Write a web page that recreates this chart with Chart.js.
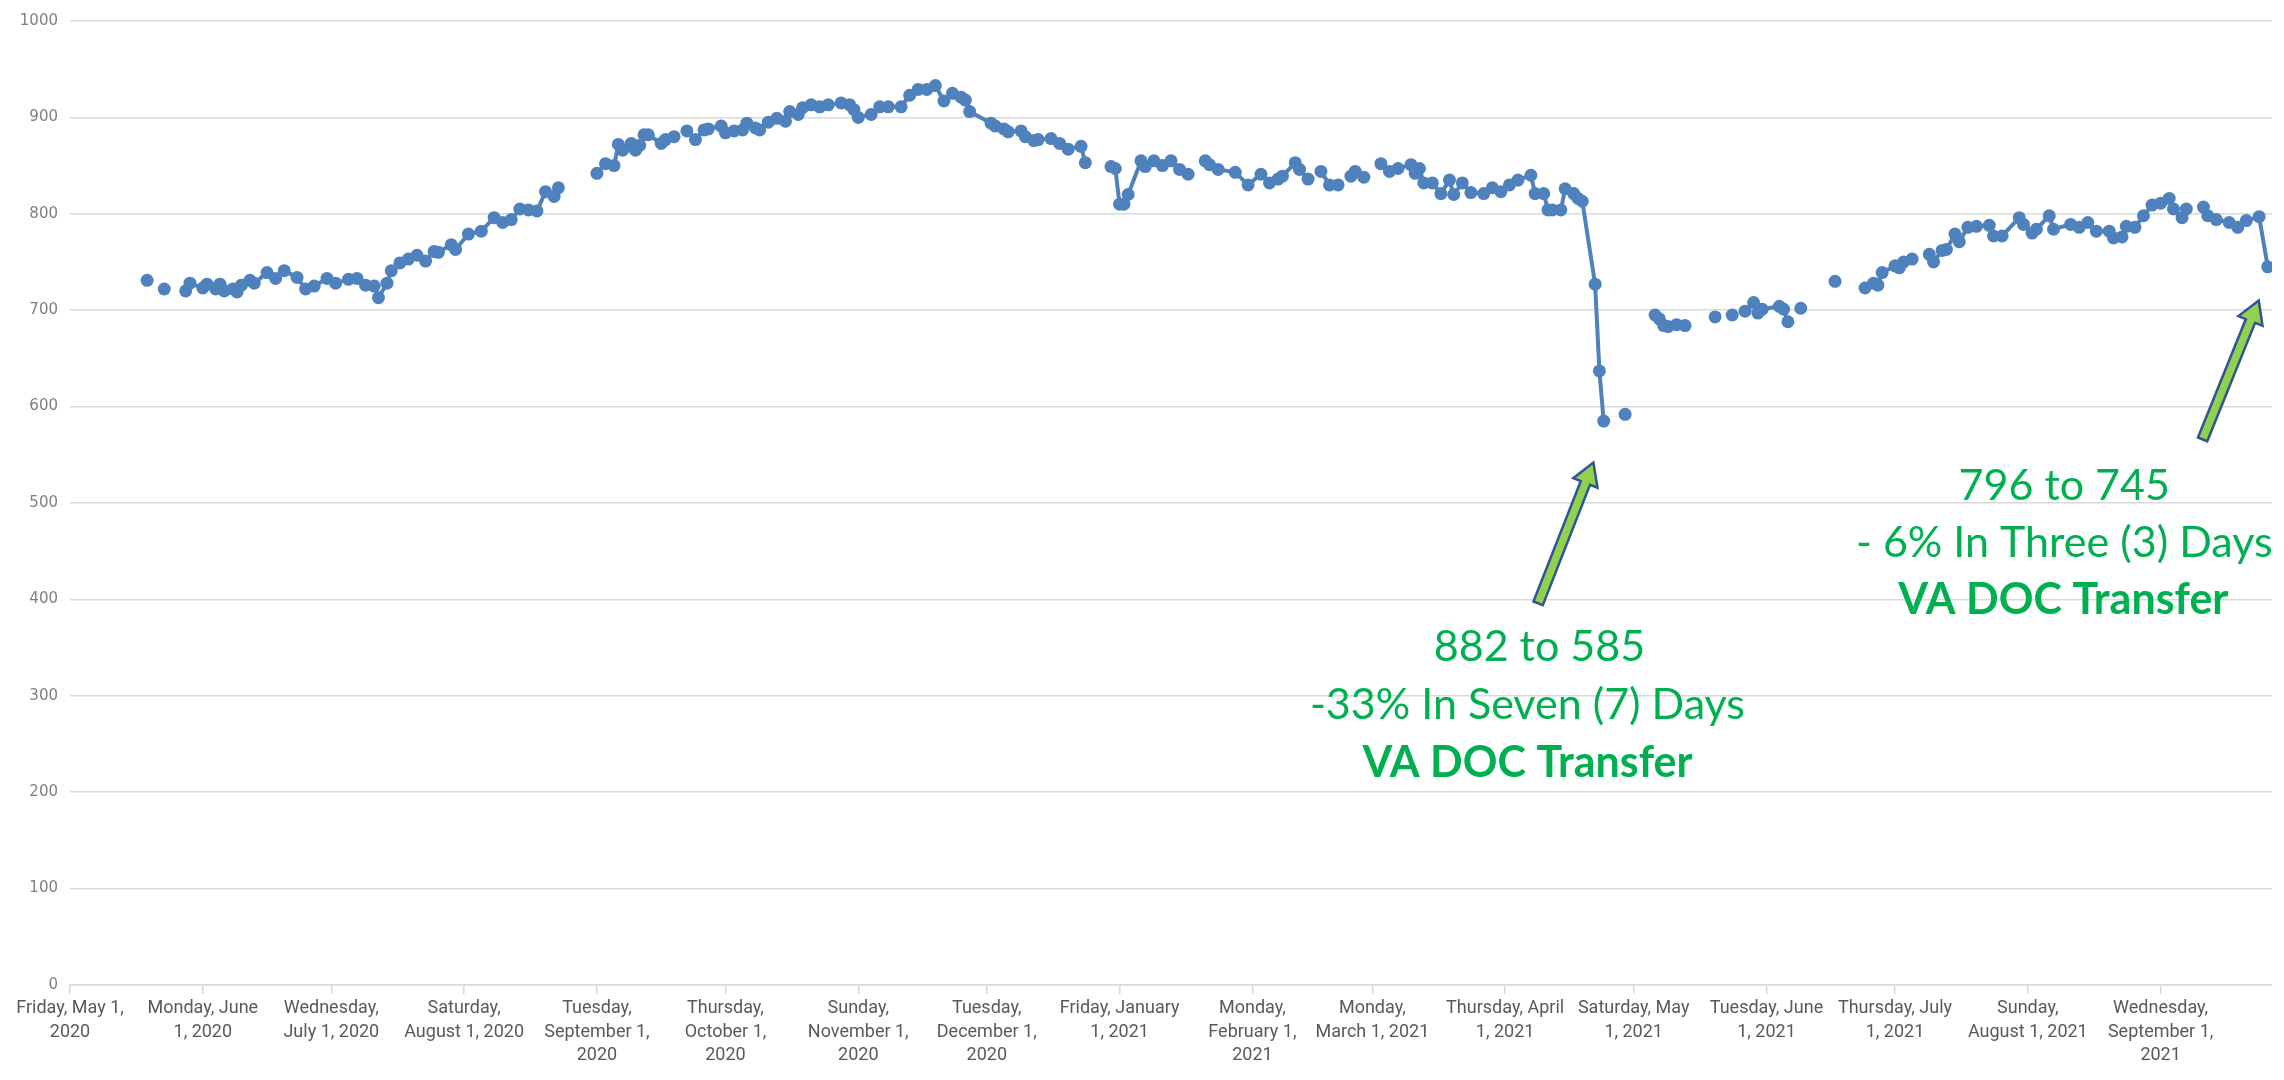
<!DOCTYPE html>
<html>
<head>
<meta charset="utf-8">
<script src="https://cdn.jsdelivr.net/npm/chart.js@4.4.0/dist/chart.umd.min.js"></script>
<style>
    html, body { margin: 0; padding: 0; background: #fff; }
    canvas { display: block; }
</style>
</head>
<body>
<canvas id="chart" width="2284" height="1080"></canvas>
<script>
'use strict';

// first day of the series, all days below are offsets from it
var startDate = '2020-05-01';

var dayOffsets = [
    18, 20, 22, 24, 27, 28, 31, 32, 34, 35, 36, 38, 39, 40, 42, 43, 46, 48, 50, 53,
    55, 57, 60, 62, 65, 67, 69, 71, 72, 74, 75, 77, 79, 81, 83, 85, 86, 89, 90, 93,
    96, 99, 101, 103, 105, 107, 109, 111, 113, 114, 118,
    123, 125, 127, 128, 129, 131, 132, 133, 134, 135, 138, 139, 141, 142, 144, 146, 148, 149,
    152, 153, 155, 157, 158, 160, 161, 163, 165, 167, 168, 170, 171, 173, 175, 177, 180,
    182, 183, 184, 187, 189, 191, 194, 196, 198, 200, 202, 204, 206, 208, 209, 210,
    215, 216, 218, 219, 222, 223, 225, 226, 229, 231, 233, 236, 237, 240,
    243, 244, 245, 246, 247, 250, 251, 253, 255, 257, 259, 261, 263,
    265, 266, 268, 272, 275, 278, 280, 282, 283, 286, 287, 289, 291,
    292, 294, 296, 298, 299, 300, 302, 304,
    306, 308, 310, 313, 314, 315, 316, 318, 320, 322, 323, 325, 327, 330, 332, 334, 336,
    338, 341, 342, 344, 345, 346, 348, 349, 351, 352, 353, 356, 357, 358, 360, 363, 365,
    370, 371, 372, 373, 375, 377, 380, 384, 386, 388, 390,
    391, 393, 394, 395, 399, 400, 401, 403, 404, 407, 412, 415,
    419, 421, 422, 423, 426, 427, 428, 430, 432,
    434, 435, 437, 438, 440, 441, 443, 445, 448, 449, 451, 455, 456, 458, 459, 462, 463,
    467, 469, 471, 473, 476, 477, 479, 480, 482, 484, 486, 488, 490, 491, 493, 494, 496,
    498, 499, 501, 504, 506, 508, 511, 513
];

// null = no report that day (line breaks)
var population = [
    731, null, 722, null, 720, 728, 723, 727, 722, 727, 720, 722, 719, 726, 731, 728, 739, 733, 741, 734,
    722, 725, 733, 728, 732, 733, 726, 725, 713, 728, 741, 749, 753, 757, 751, 761, 760, 768, 763, 779,
    782, 796, 791, 794, 805, 804, 803, 823, 818, 827, null,
    842, 852, 850, 872, 866, 873, 866, 871, 882, 882, 873, 877, 880, null, 886, 877, 887, 888,
    891, 884, 886, 887, 894, 889, 887, 895, 899, 896, 906, 903, 910, 913, 911, 913, 915,
    913, 908, 900, 903, 911, 911, 911, 923, 929, 929, 933, 917, 925, 921, 918, 906,
    894, 891, 888, 885, 886, 880, 876, 877, 878, 873, 867, 870, 853, null,
    849, 847, 810, 810, 820, 855, 849, 855, 850, 855, 846, 841, null,
    855, 851, 846, 843, 830, 841, 832, 836, 839, 853, 846, 836, null,
    844, 830, 830, null, 839, 844, 838, null,
    852, 844, 847, 851, 842, 847, 832, 832, 821, 835, 820, 832, 822, 821, 827, 823, 830,
    835, 840, 821, 821, 804, 804, 804, 826, 821, 816, 813, 727, 637, 585, null, 592, null,
    695, 691, 684, 683, 685, 684, null, 693, null, 695, null,
    699, 708, 697, 701, 704, 701, 688, null, 702, null, 730, null,
    723, 728, 726, 739, 746, 744, 750, 753, null,
    758, 750, 762, 763, 779, 771, 786, 787, 788, 777, 777, 796, 789, 780, 784, 798, 784,
    789, 786, 791, 782, 782, 775, 776, 787, 786, 798, 809, 811, 816, 805, 796, 805, null,
    807, 798, 794, 791, 786, 793, 797, 745
];

var tickDates = [
    '2020-05-01', '2020-06-01', '2020-07-01', '2020-08-01', '2020-09-01', '2020-10-01',
    '2020-11-01', '2020-12-01', '2021-01-01', '2021-02-01', '2021-03-01', '2021-04-01',
    '2021-05-01', '2021-06-01', '2021-07-01', '2021-08-01', '2021-09-01'
];

var tickLabels = [
    ['Friday, May 1,', '2020'],
    ['Monday, June', '1, 2020'],
    ['Wednesday,', 'July 1, 2020'],
    ['Saturday,', 'August 1, 2020'],
    ['Tuesday,', 'September 1,', '2020'],
    ['Thursday,', 'October 1,', '2020'],
    ['Sunday,', 'November 1,', '2020'],
    ['Tuesday,', 'December 1,', '2020'],
    ['Friday, January', '1, 2021'],
    ['Monday,', 'February 1,', '2021'],
    ['Monday,', 'March 1, 2021'],
    ['Thursday, April', '1, 2021'],
    ['Saturday, May', '1, 2021'],
    ['Tuesday, June', '1, 2021'],
    ['Thursday, July', '1, 2021'],
    ['Sunday,', 'August 1, 2021'],
    ['Wednesday,', 'September 1,', '2021']
];

var noteDropLines = ['882 to 585', '-33% In Seven (7) Days', 'VA DOC Transfer'];
var noteLateLines = ['796 to 745', '- 6% In Three (3) Days', 'VA DOC Transfer'];

function dayOf(iso) {
    var a = iso.split('-').map(Number), b = startDate.split('-').map(Number);
    return (Date.UTC(a[0], a[1] - 1, a[2]) - Date.UTC(b[0], b[1] - 1, b[2])) / 86400000;
}

var points = dayOffsets.map(function (d, i) {
    return { x: d, y: population[i] };
});

// callouts, anchored in data units (day, value)
var callouts = [
    {
        lines: noteDropLines,
        centers: [343, 340.2, 340.2],
        baselines: [336, 276, 216],
        arrow: { from: [342.7, 396], to: [355.6, 542] }
    },
    {
        lines: noteLateLines,
        centers: [465.5, 465.5, 465.3],
        baselines: [503, 444, 385],
        arrow: { from: [497.8, 566], to: [510.9, 710] }
    }
];

function drawArrow(ctx, x0, y0, x1, y1) {
    var ang = Math.atan2(y1 - y0, x1 - x0),
        len = Math.hypot(x1 - x0, y1 - y0),
        sw = 5, hw = 13, hl = 22;
    ctx.save();
    ctx.translate(x0, y0);
    ctx.rotate(ang);
    ctx.beginPath();
    ctx.moveTo(0, -sw);
    ctx.lineTo(len - hl, -sw);
    ctx.lineTo(len - hl, -hw);
    ctx.lineTo(len, 0);
    ctx.lineTo(len - hl, hw);
    ctx.lineTo(len - hl, sw);
    ctx.lineTo(0, sw);
    ctx.closePath();
    ctx.fillStyle = '#92d050';
    ctx.fill();
    ctx.lineWidth = 2.5;
    ctx.lineJoin = 'miter';
    ctx.strokeStyle = '#2f5597';
    ctx.stroke();
    ctx.restore();
}

var calloutPlugin = {
    id: 'callouts',
    afterDraw: function (chart) {
        var ctx = chart.ctx, xs = chart.scales.x, ys = chart.scales.y;
        callouts.forEach(function (c) {
            var a = c.arrow;
            drawArrow(ctx,
                xs.getPixelForValue(a.from[0]), ys.getPixelForValue(a.from[1]),
                xs.getPixelForValue(a.to[0]), ys.getPixelForValue(a.to[1]));
            ctx.save();
            ctx.fillStyle = '#00b050';
            ctx.textAlign = 'center';
            ctx.textBaseline = 'alphabetic';
            c.lines.forEach(function (txt, i) {
                ctx.font = (i === 2 ? 'bold ' : '') + '43px Lato';
                ctx.fillText(txt, xs.getPixelForValue(c.centers[i]), ys.getPixelForValue(c.baselines[i]));
            });
            ctx.restore();
        });
    }
};

var chart = new Chart(document.getElementById('chart'), {
    type: 'line',
    data: {
        datasets: [{
            data: points,
            borderColor: '#4f81bd',
            backgroundColor: '#4f81bd',
            borderWidth: 4,
            pointRadius: 6.5,
            pointBorderWidth: 0,
            pointBackgroundColor: '#4f81bd',
            spanGaps: false,
            tension: 0
        }]
    },
    options: {
        responsive: false,
        devicePixelRatio: 1,
        animation: false,
        layout: { padding: { top: 14, right: 12, left: 0, bottom: 0 } },
        plugins: {
            legend: { display: false },
            tooltip: { enabled: false }
        },
        scales: {
            x: {
                type: 'linear',
                min: 0,
                max: 514,
                bounds: 'data',
                afterFit: function (scale) { scale.height = 95; },
                afterBuildTicks: function (scale) {
                    scale.ticks = tickDates.map(function (d) { return { value: dayOf(d) }; });
                },
                border: { display: true, color: '#d9d9d9', width: 1.5 },
                grid: { drawOnChartArea: false, drawTicks: true, tickLength: 9, color: '#d9d9d9', lineWidth: 1.5 },
                ticks: {
                    autoSkip: false,
                    maxRotation: 0,
                    minRotation: 0,
                    padding: 3,
                    color: '#595959',
                    font: { family: 'Roboto', size: 18, lineHeight: 1.3 },
                    callback: function (value, index) { return tickLabels[index]; }
                }
            },
            y: {
                min: 0,
                max: 1000,
                afterFit: function (scale) { scale.width = 70; },
                border: { display: false },
                grid: { color: '#d9d9d9', lineWidth: 1.5, drawTicks: false },
                ticks: {
                    stepSize: 100,
                    padding: 12,
                    color: '#7f7f7f',
                    font: { family: 'DejaVu Sans', size: 15 },
                    callback: function (value) { return String(value); }
                }
            }
        }
    },
    plugins: [calloutPlugin]
});
</script>
</body>
</html>
